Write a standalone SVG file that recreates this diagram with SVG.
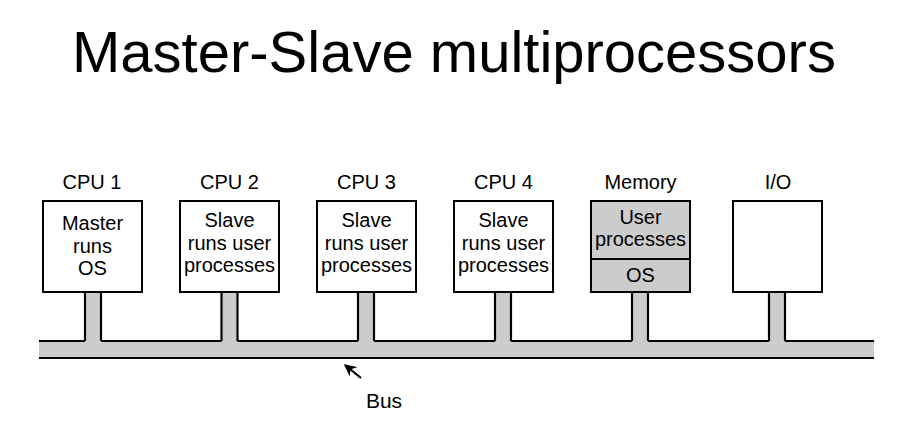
<svg xmlns="http://www.w3.org/2000/svg" width="899" height="437" viewBox="0 0 899 437">
<defs>
<style>
text{font-family:"Liberation Sans",Arial,sans-serif;fill:#000;text-anchor:middle}
.t{font-size:58px}
.l{font-size:20px}
.box{fill:#fff;stroke:#000;stroke-width:2}
.gbox{fill:#cccccc;stroke:#000;stroke-width:2}
.gray{fill:#cccccc;stroke:none}
.ln{stroke:#000;stroke-width:2.2;fill:none}
</style>
<marker id="ah" viewBox="0 0 10 10" refX="9" refY="5" markerWidth="12" markerHeight="12" markerUnits="userSpaceOnUse" orient="auto">
<path d="M0,0 L10,5 L0,10 L3,5 z" fill="#000"/>
</marker>
</defs>
<rect width="899" height="437" fill="#fff"/>
<text class="t" x="454" y="72">Master-Slave multiprocessors</text>

<g id="connectors">
<rect class="gray" x="39" y="341" width="835" height="17"/>
<line class="ln" x1="39" y1="341" x2="874" y2="341"/>
<line class="ln" x1="39" y1="358" x2="874" y2="358"/>
<g id="stems">
<rect class="gray" x="85" y="293" width="16" height="50"/>
<path class="ln" d="M85,292V341M101,292V341"/>
<rect class="gray" x="221.5" y="293" width="16" height="50"/>
<path class="ln" d="M221.5,292V341M237.5,292V341"/>
<rect class="gray" x="358" y="293" width="16" height="50"/>
<path class="ln" d="M358,292V341M374,292V341"/>
<rect class="gray" x="495" y="293" width="16" height="50"/>
<path class="ln" d="M495,292V341M511,292V341"/>
<rect class="gray" x="632" y="293" width="16" height="50"/>
<path class="ln" d="M632,292V341M648,292V341"/>
<rect class="gray" x="769" y="293" width="16" height="50"/>
<path class="ln" d="M769,292V341M785,292V341"/>
</g>
<line class="ln" x1="361" y1="378" x2="345" y2="365" marker-end="url(#ah)"/>
<text class="l" x="384" y="408" style="font-size:21px">Bus</text>
</g>

<g id="cpu1">
<text class="l" x="92" y="189">CPU 1</text>
<rect class="box" x="43" y="201" width="99" height="91"/>
<text class="l" x="92.5" y="230">Master</text>
<text class="l" x="92.5" y="252.5">runs</text>
<text class="l" x="92.5" y="275">OS</text>
</g>
<g id="cpu2">
<text class="l" x="229.5" y="189">CPU 2</text>
<rect class="box" x="180" y="201" width="99" height="91"/>
<text class="l" x="229.5" y="227">Slave</text>
<text class="l" x="229.5" y="249.5">runs user</text>
<text class="l" x="229.5" y="272">processes</text>
</g>
<g id="cpu3">
<text class="l" x="366.5" y="189">CPU 3</text>
<rect class="box" x="317" y="201" width="99" height="91"/>
<text class="l" x="366.5" y="227">Slave</text>
<text class="l" x="366.5" y="249.5">runs user</text>
<text class="l" x="366.5" y="272">processes</text>
</g>
<g id="cpu4">
<text class="l" x="503.5" y="189">CPU 4</text>
<rect class="box" x="454" y="201" width="99" height="91"/>
<text class="l" x="503.5" y="227">Slave</text>
<text class="l" x="503.5" y="249.5">runs user</text>
<text class="l" x="503.5" y="272">processes</text>
</g>
<g id="memory">
<text class="l" x="640.5" y="189">Memory</text>
<rect class="gbox" x="591" y="201" width="99" height="91"/>
<line class="ln" x1="591" y1="259" x2="690" y2="259"/>
<text class="l" x="640.5" y="224">User</text>
<text class="l" x="640.5" y="246">processes</text>
<text class="l" x="640.5" y="282">OS</text>
</g>
<g id="io">
<text class="l" x="778" y="189">I/O</text>
<rect class="box" x="733" y="201" width="89" height="91"/>
</g>
</svg>
